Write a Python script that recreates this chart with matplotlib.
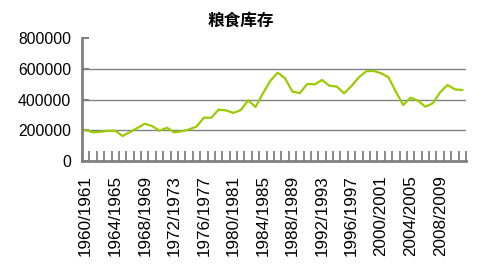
import matplotlib
matplotlib.use("Agg")
import matplotlib.pyplot as plt
import numpy as np

title = "粮食库存"
start_years = list(range(1960, 2012))
categories = [f"{y}/{y+1}" for y in start_years]
values = [202000, 187000, 191000, 197000, 197000, 163000, 189000, 215000,
          243000, 228000, 197000, 217000, 187000, 194000, 206000, 224000,
          282000, 282000, 335000, 330000, 313000, 332000, 396000, 352000,
          441000, 522000, 576000, 539000, 452000, 443000, 502000, 500000,
          528000, 491000, 485000, 441000, 489000, 546000, 585000, 587000,
          572000, 546000, 452000, 365000, 413000, 393000, 354000, 376000,
          448000, 496000, 467000, 463000]
y_ticks = [0, 200000, 400000, 600000, 800000]
label_step = 4

plt.rcParams['font.family'] = ['Liberation Sans', 'DejaVu Sans']

fig = plt.figure(figsize=(4.86, 2.64), dpi=100)
W, H = 486, 264
ax = fig.add_axes([82 / W, 1 - 161 / H, (466 - 82) / W, (161 - 38.3) / H])

x = np.arange(len(categories))
ax.plot(x, values, color='#99CC00', lw=1.6, solid_joinstyle='round')

ax.set_xlim(-0.5, len(categories) - 0.5)
ax.set_ylim(y_ticks[0], y_ticks[-1])

grid_col = '#808080'
ax.set_yticks(y_ticks)
ax.set_yticklabels([str(v) for v in y_ticks], fontsize=11.3)
ax.tick_params(axis='y', direction='in', length=5, width=1.5, color=grid_col, pad=8)
ax.yaxis.grid(True, color=grid_col, lw=1.0)
gl = ax.yaxis.get_gridlines()
gl[0].set_visible(False)
gl[-1].set_visible(False)
ax.set_axisbelow(True)

ax.set_xticks(x[::label_step])
ax.set_xticklabels(categories[::label_step], rotation=90, fontsize=12.3, va='top', ha='center')
ax.tick_params(axis='x', which='major', length=0, pad=10)
ax.set_xticks(np.arange(-0.5, len(categories), 1.0), minor=True)
ax.tick_params(axis='x', which='minor', direction='in', length=7, width=1.3, color=grid_col)

for s in ['top', 'right']:
    ax.spines[s].set_visible(False)
for s in ['left', 'bottom']:
    ax.spines[s].set_color(grid_col)
    ax.spines[s].set_linewidth(2)

fig.text(241 / W, 1 - 21 / H, title, ha='center', va='center', fontsize=12,
         fontweight='bold', family=['Noto Sans CJK SC', 'DejaVu Sans'])

fig.savefig("out.png", dpi=100)
